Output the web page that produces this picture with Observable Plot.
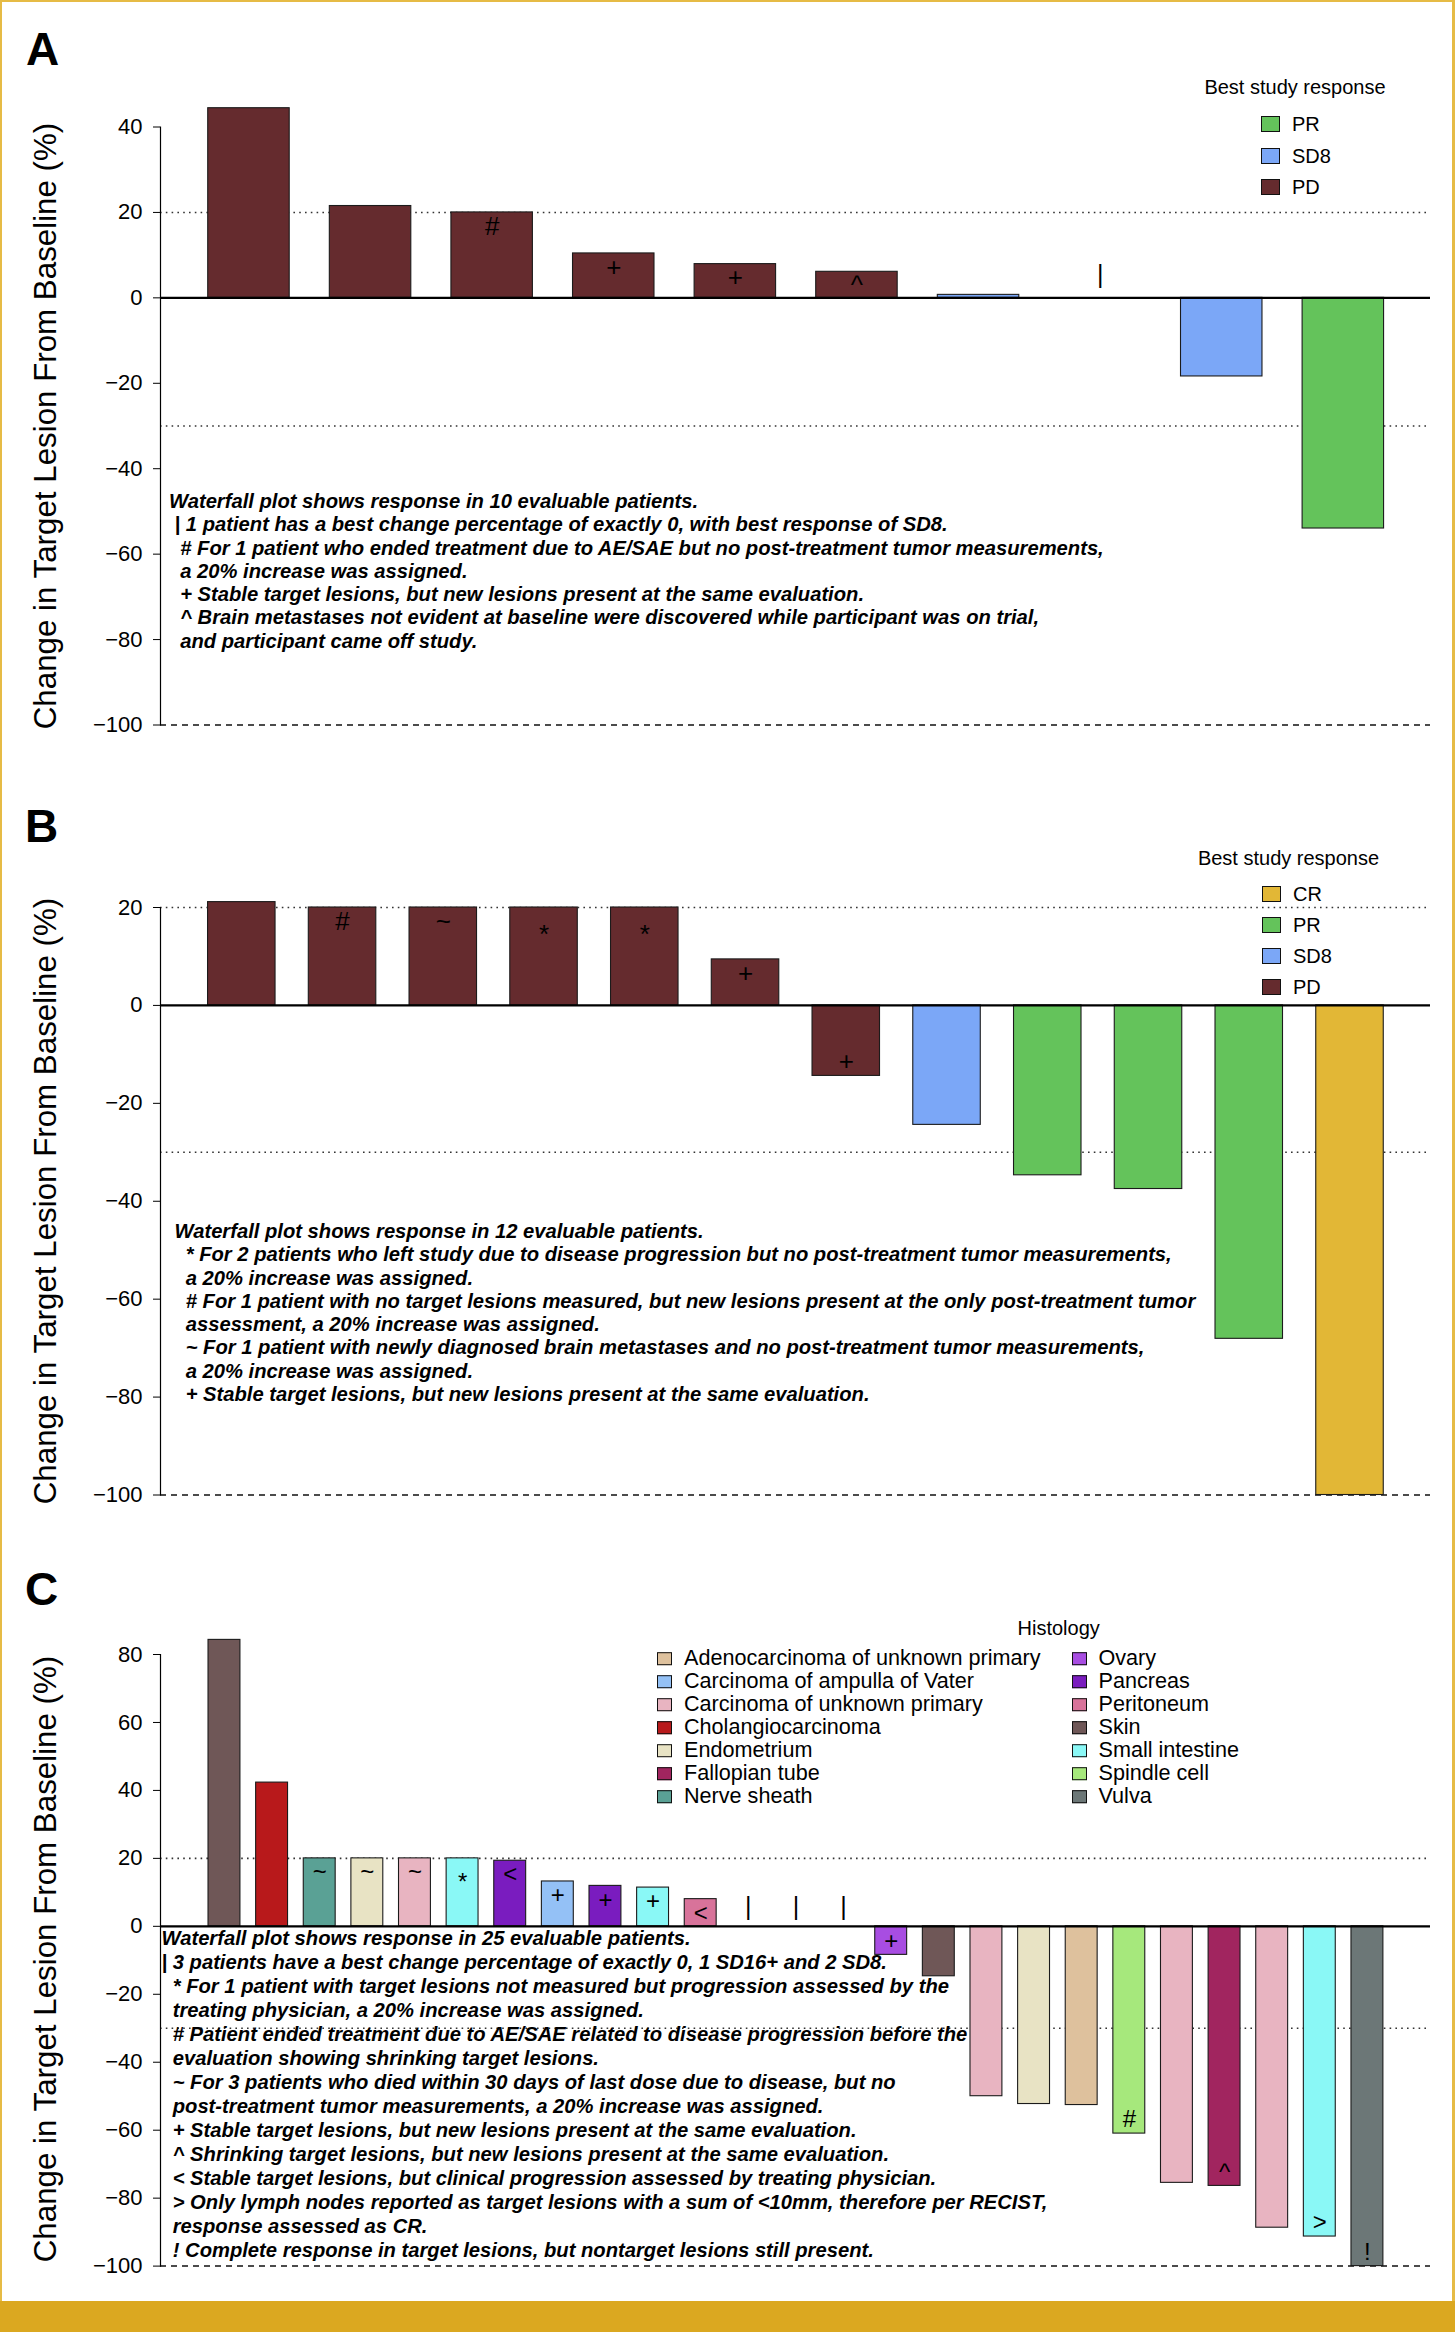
<!DOCTYPE html>
<html>
<head>
<meta charset="utf-8">
<script src="https://cdn.jsdelivr.net/npm/d3@7"></script>
<script src="https://cdn.jsdelivr.net/npm/@observablehq/plot@0.6"></script>
<style>
  html, body { margin: 0; padding: 0; background: #fff; }
  #page { position: relative; width: 1455px; height: 2332px; overflow: hidden; background: #fff;
          font-family: "Liberation Sans", Arial, Helvetica, sans-serif; color: #000; }
  .panel { position: absolute; left: 0; width: 1455px; }
  .plabel { position: absolute; font-weight: bold; font-size: 46px; line-height: 1; }
  .ytitle { position: absolute; font-size: 31.3px; white-space: nowrap; line-height: 1;
            transform: translate(-50%, -50%) rotate(-90deg); }
  .note { position: absolute; font-weight: bold; font-style: italic; font-size: 20.2px; }
  .note div { white-space: pre; }
  .ltitle { position: absolute; font-size: 20px; white-space: nowrap; line-height: 1; transform: translate(-50%, -50%); }
  .litem { position: absolute; display: flex; align-items: center; white-space: nowrap; line-height: 1; transform: translateY(-50%); }
  .sw { box-sizing: border-box; border: 1.6px solid #111; flex: none; }
  .edge { position: absolute; }
</style>
</head>
<body>
<div id="page"></div>
<script>
// ---------------- DATA ----------------
const responseCategories = ["CR", "PR", "SD8", "PD"];
const responseColors = ["#e2b736", "#64c35b", "#7ba7f7", "#652b2e"];

// Panel A
const aValues = [44.4, 21.5, 20, 10.4, 7.9, 6.1, 0.7, 0, -18.4, -54];
const aResponse = ["PD", "PD", "PD", "PD", "PD", "PD", "SD8", "SD8", "SD8", "PR"];
const aMarks = ["", "", "#", "+", "+", "^", "", "|", "", ""];
const aTicks = [-100, -80, -60, -40, -20, 0, 20, 40];
const aLegend = ["PR", "SD8", "PD"];
const aNotes = [
  "Waterfall plot shows response in 10 evaluable patients.",
  " | 1 patient has a best change percentage of exactly 0, with best response of SD8.",
  "  # For 1 patient who ended treatment due to AE/SAE but no post-treatment tumor measurements,",
  "  a 20% increase was assigned.",
  "  + Stable target lesions, but new lesions present at the same evaluation.",
  "  ^ Brain metastases not evident at baseline were discovered while participant was on trial,",
  "  and participant came off study."
];

// Panel B
const bValues = [21.1, 20, 20, 20, 20, 9.4, -14.4, -24.4, -34.7, -37.5, -68.1, -100];
const bResponse = ["PD", "PD", "PD", "PD", "PD", "PD", "PD", "SD8", "PR", "PR", "PR", "CR"];
const bMarks = ["", "#", "~", "*", "*", "+", "+", "", "", "", "", ""];
const bTicks = [-100, -80, -60, -40, -20, 0, 20];
const bLegend = ["CR", "PR", "SD8", "PD"];
const bNotes = [
  "Waterfall plot shows response in 12 evaluable patients.",
  "  * For 2 patients who left study due to disease progression but no post-treatment tumor measurements,",
  "  a 20% increase was assigned.",
  "  # For 1 patient with no target lesions measured, but new lesions present at the only post-treatment tumor",
  "  assessment, a 20% increase was assigned.",
  "  ~ For 1 patient with newly diagnosed brain metastases and no post-treatment tumor measurements,",
  "  a 20% increase was assigned.",
  "  + Stable target lesions, but new lesions present at the same evaluation."
];

// Panel C
const histologyCategories = [
  "Adenocarcinoma of unknown primary", "Carcinoma of ampulla of Vater", "Carcinoma of unknown primary",
  "Cholangiocarcinoma", "Endometrium", "Fallopian tube", "Nerve sheath",
  "Ovary", "Pancreas", "Peritoneum", "Skin", "Small intestine", "Spindle cell", "Vulva"
];
const histologyColors = [
  "#dec19d", "#94c1f6", "#e8b4c1", "#b8191b", "#e8e3c4", "#a1255f", "#5aa195",
  "#a84de2", "#7a1cbf", "#d8739a", "#6f5757", "#8af8f6", "#a6e87c", "#6c7777"
];
const cValues = [84.3, 42.3, 20, 20, 20, 20, 19.3, 13.2, 11.9, 11.4, 8.0, 0, 0, 0,
                 -8.4, -14.7, -50.0, -52.3, -52.6, -61.0, -75.5, -76.4, -88.7, -91.3, -100];
const cHistology = [
  "Skin", "Cholangiocarcinoma", "Nerve sheath", "Endometrium", "Carcinoma of unknown primary",
  "Small intestine", "Pancreas", "Carcinoma of ampulla of Vater", "Pancreas", "Small intestine",
  "Peritoneum", null, null, null, "Ovary", "Skin", "Carcinoma of unknown primary", "Endometrium",
  "Adenocarcinoma of unknown primary", "Spindle cell", "Carcinoma of unknown primary",
  "Fallopian tube", "Carcinoma of unknown primary", "Small intestine", "Vulva"
];
const cMarks = ["", "", "~", "~", "~", "*", "<", "+", "+", "+", "<", "|", "|", "|",
                "+", "", "", "", "", "#", "", "^", "", ">", "!"];
const cTicks = [-100, -80, -60, -40, -20, 0, 20, 40, 60, 80];
const cNotes = [
  "Waterfall plot shows response in 25 evaluable patients.",
  "| 3 patients have a best change percentage of exactly 0, 1 SD16+ and 2 SD8.",
  "  * For 1 patient with target lesions not measured but progression assessed by the",
  "  treating physician, a 20% increase was assigned.",
  "  # Patient ended treatment due to AE/SAE related to disease progression before the",
  "  evaluation showing shrinking target lesions.",
  "  ~ For 3 patients who died within 30 days of last dose due to disease, but no",
  "  post-treatment tumor measurements, a 20% increase was assigned.",
  "  + Stable target lesions, but new lesions present at the same evaluation.",
  "  ^ Shrinking target lesions, but new lesions present at the same evaluation.",
  "  < Stable target lesions, but clinical progression assessed by treating physician.",
  "  > Only lymph nodes reported as target lesions with a sum of <10mm, therefore per RECIST,",
  "  response assessed as CR.",
  "  ! Complete response in target lesions, but nontarget lesions still present."
];

const dottedLevels = [20, -30];
const dashedLevels = [-100];
const yTitle = "Change in Target Lesion From Baseline (%)";
const FONT = "'Liberation Sans', Arial, Helvetica, sans-serif";

// ---------------- DRAW ----------------
const page = document.getElementById("page");

function el(tag, cls, css, text) {
  const e = document.createElement(tag);
  if (cls) e.className = cls;
  Object.assign(e.style, css || {});
  if (text != null) e.textContent = text;
  page.appendChild(e);
  return e;
}

function waterfall(o) {
  const ids = o.values.map((_, i) => String(i + 1));
  const data = ids.map((id, i) => ({id, value: o.values[i], cat: o.cats[i], mark: o.marks[i]}));
  const sym = d => d.mark && d.mark !== "|";
  return Plot.plot({
    width: 1455, height: o.height,
    marginLeft: 160, marginRight: 25, marginTop: o.marginTop, marginBottom: o.marginBottom,
    style: {fontFamily: FONT, color: "#000", background: "transparent", overflow: "visible"},
    x: {type: "band", domain: ids, padding: 0.33, round: false, insetLeft: o.insetLeft, insetRight: o.insetRight, axis: null},
    y: {domain: o.yDomain, axis: null},
    color: {domain: o.colorDomain, range: o.colorRange},
    marks: [
      Plot.ruleY(dottedLevels, {stroke: "#333", strokeWidth: 1.6, strokeDasharray: "1.6,4.2"}),
      Plot.ruleY(dashedLevels, {stroke: "#111", strokeWidth: 1.5, strokeDasharray: "6,5"}),
      Plot.barY(data, {filter: d => d.value !== 0, x: "id", y: "value", fill: "cat", stroke: "#1b1b1b", strokeWidth: 1.1}),
      Plot.ruleY([0], {stroke: "#000", strokeWidth: 2.2}),
      Plot.frame({anchor: "left", stroke: "#000", strokeWidth: 1.2}),
      Plot.axisY({ticks: o.ticks, tickSize: 7, tickPadding: 11, fontSize: 22, label: null}),
      Plot.text(data, {filter: d => sym(d) && d.mark !== "*" && d.value > 0, x: "id", y: "value", text: "mark",
                       dy: 14, fontSize: o.markFont, lineAnchor: "middle"}),
      Plot.text(data, {filter: d => d.mark === "*" && d.value > 0, x: "id", y: "value", text: "mark",
                       dy: o.starDy, fontSize: o.markFont, lineAnchor: "middle"}),
      Plot.text(data, {filter: d => sym(d) && d.value < 0, x: "id", y: "value", text: "mark",
                       dy: -14, fontSize: o.markFont, lineAnchor: "middle"}),
      Plot.text(data, {filter: d => d.mark === "|", x: "id", y: "value", text: "mark",
                       dy: o.zeroDy, fontSize: 25, lineAnchor: "middle"})
    ]
  });
}

function panel(top, chart) {
  const d = el("div", "panel", {top: top + "px"});
  d.appendChild(chart);
}

// Panel A
panel(0, waterfall({
  values: aValues, cats: aResponse, marks: aMarks, ticks: aTicks,
  colorDomain: responseCategories, colorRange: responseColors,
  yDomain: [-100, 40], height: 760, marginTop: 126.5, marginBottom: 35.5,
  insetLeft: 7.6, insetRight: 6.3, markFont: 26, zeroDy: -23, starDy: 22
}));
// Panel B
panel(780, waterfall({
  values: bValues, cats: bResponse, marks: bMarks, ticks: bTicks,
  colorDomain: responseCategories, colorRange: responseColors,
  yDomain: [-100, 20], height: 760, marginTop: 127, marginBottom: 45.5,
  insetLeft: 14.3, insetRight: 13.5, markFont: 26, zeroDy: -23, starDy: 27
}));
// Panel C
panel(1560, waterfall({
  values: cValues, cats: cHistology, marks: cMarks, ticks: cTicks,
  colorDomain: histologyCategories, colorRange: histologyColors,
  yDomain: [-100, 80], height: 741, marginTop: 94, marginBottom: 35.4,
  insetLeft: 32.3, insetRight: 31.4, markFont: 24, zeroDy: -19, starDy: 24
}));

// panel labels
[["A", 26, 26], ["B", 25, 803], ["C", 25, 1566]].forEach(([t, x, y]) =>
  el("div", "plabel", {left: x + "px", top: y + "px"}, t));

// y titles
[426, 1201, 1959].forEach(cy => el("div", "ytitle", {left: "45.5px", top: cy + "px"}, yTitle));

// notes
function notes(lines, x, top, lh) {
  const n = el("div", "note", {left: x + "px", top: top + "px"});
  lines.forEach(s => {
    const r = document.createElement("div");
    r.style.height = lh + "px"; r.style.lineHeight = lh + "px";
    r.textContent = s;
    n.appendChild(r);
  });
}
notes(aNotes, 169, 490, 23.3);
notes(bNotes, 174.5, 1220, 23.3);
notes(cNotes, 161.5, 1926.3, 24);

// legends
const colorOf = (cats, cols) => c => cols[cats.indexOf(c)];
function legendItems(items, color, x, y0, dy, sw, gap, fs) {
  items.forEach((c, i) => {
    const it = el("div", "litem", {left: x + "px", top: (y0 + i * dy) + "px", fontSize: fs + "px"});
    const s = document.createElement("div");
    s.className = "sw";
    Object.assign(s.style, {width: sw[0] + "px", height: sw[1] + "px", background: color(c), marginRight: gap + "px"});
    it.appendChild(s);
    const t = document.createElement("span");
    t.textContent = c;
    it.appendChild(t);
  });
}
const respColor = colorOf(responseCategories, responseColors);
el("div", "ltitle", {left: "1295px", top: "87px"}, "Best study response");
legendItems(aLegend, respColor, 1261, 124.3, 31.2, [19, 16], 12, 20);
el("div", "ltitle", {left: "1288.5px", top: "858px"}, "Best study response");
legendItems(bLegend, respColor, 1262, 894.4, 30.7, [19, 16], 12, 20);
const histColor = colorOf(histologyCategories, histologyColors);
el("div", "ltitle", {left: "1058.7px", top: "1628.3px"}, "Histology");
legendItems(histologyCategories.slice(0, 7), histColor, 657, 1658.3, 23.0, [15, 13], 12, 21.6);
legendItems(histologyCategories.slice(7), histColor, 1071.5, 1658.3, 23.0, [15, 13], 12, 21.6);

// page edges (decorative frame)
el("div", "edge", {left: 0, top: 0, width: "1455px", height: "2px", background: "#e6bb45"});
el("div", "edge", {left: 0, top: 0, width: "2px", height: "2332px", background: "#e6bb45"});
el("div", "edge", {left: "1452px", top: 0, width: "3px", height: "2332px", background: "#e6bb45"});
el("div", "edge", {left: 0, top: "2301px", width: "1455px", height: "31px", background: "#dba820"});
</script>
</body>
</html>
